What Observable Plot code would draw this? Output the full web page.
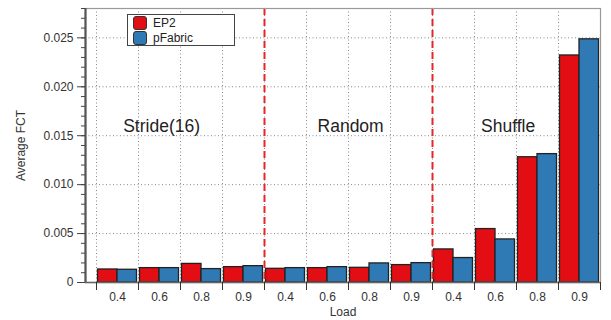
<!DOCTYPE html>
<html><head><meta charset="utf-8">
<script src="https://cdn.jsdelivr.net/npm/d3@7"></script>
<script src="https://cdn.jsdelivr.net/npm/@observablehq/plot@0.6"></script>
<style>
body{margin:0;background:#fff;font-family:"Liberation Sans",Arial,sans-serif;}
#wrap{position:relative;width:611px;height:320px;}
.legend{position:absolute;left:127px;top:14px;width:106px;height:30px;border:1.5px solid #444;background:#fff;font-size:12px;color:#222;padding:0;}
.legend .row{position:absolute;left:5px;height:14px;display:flex;align-items:center;}
.legend .sw{width:12px;height:12px;border:1.2px solid #333;border-radius:3px;margin-right:6px;}
</style></head><body><div id="wrap"></div>
<script>
const categories = ["Stride(16)", "Random", "Shuffle"];
const loads = ["0.4", "0.6", "0.8", "0.9"];
const seriesNames = ["EP2", "pFabric"];
const colors = ["#e30d14", "#2f79b5"];
const ep2 =     [0.00133, 0.00147, 0.00190, 0.00157, 0.00140, 0.00147, 0.00150, 0.00178, 0.00338, 0.00546, 0.01280, 0.02320];
const pfabric = [0.00130, 0.00147, 0.00137, 0.00167, 0.00147, 0.00157, 0.00195, 0.00198, 0.00250, 0.00440, 0.01312, 0.02485];
const yMajor = [0, 0.005, 0.010, 0.015, 0.020, 0.025];
const yMinor = d3.range(0, 0.0285, 0.001);
const annotationX = [1.55, 6.05, 9.8];
const annotationY = 0.016;

const groups = [];
categories.forEach((c, ci) => loads.forEach((l, li) => groups.push({i: ci * loads.length + li, cat: c, load: l})));
const rows = [];
groups.forEach((g, k) => {
  rows.push({...g, series: "EP2", value: ep2[k]});
  rows.push({...g, series: "pFabric", value: pfabric[k]});
});
const nGroups = groups.length;
const boundaries = d3.range(0, nGroups + 1);
const centers = groups.map(g => g.i + 0.5);
const separators = categories.slice(1).map((c, k) => (k + 1) * loads.length);
const xDomain = [-0.262, nGroups];

const chart = Plot.plot({
  width: 611, height: 320,
  marginLeft: 85, marginRight: 11, marginTop: 8, marginBottom: 38,
  style: {fontFamily: "'Liberation Sans', Arial, sans-serif", fontSize: "12px", color: "#333", background: "#fff"},
  x: {type: "linear", domain: xDomain, axis: null},
  y: {domain: [0, 0.028], axis: null},
  color: {domain: seriesNames, range: colors},
  marks: [
    Plot.ruleY(yMajor.slice(1), {stroke: "#888", strokeDasharray: "1,2.5", strokeWidth: 1}),
    Plot.ruleX(boundaries, {stroke: "#888", strokeDasharray: "1,2.5", strokeWidth: 1}),
    Plot.rectY(rows.filter(d => d.series === "EP2"), {x1: d => d.i, x2: d => d.i + 0.5, y: "value", fill: "series", stroke: "#222", strokeWidth: 1.3, insetLeft: 1.5}),
    Plot.rectY(rows.filter(d => d.series === "pFabric"), {x1: d => d.i + 0.5, x2: d => d.i + 1, y: "value", fill: "series", stroke: "#222", strokeWidth: 1.3, insetRight: 1.5}),
    Plot.ruleX(separators, {stroke: "#e8262a", strokeWidth: 2, strokeDasharray: "7,4"}),
    Plot.text(categories, {x: (d, k) => annotationX[k], y: () => annotationY, text: d => d, fontSize: 17.5, fill: "#222"}),
    Plot.frame({stroke: "#999", strokeWidth: 1.2}),
    Plot.ruleY([0], {stroke: "#666", strokeWidth: 1.5}),
    Plot.ruleX([xDomain[0]], {stroke: "#555", strokeWidth: 2.2}),
    Plot.axisY(yMinor, {tickSize: 4, tickFormat: () => "", stroke: "#444", label: null}),
    Plot.axisY(yMajor, {tickSize: 8, tickPadding: 4, stroke: "#444", tickFormat: d => d === 0 ? "0" : d.toFixed(3), label: "Average FCT", labelArrow: "none", labelAnchor: "center", labelOffset: 69}),
    Plot.axisX(boundaries, {tickSize: 8, tickFormat: () => "", stroke: "#333", label: null}),
    Plot.axisX(centers, {tickSize: 0, tickPadding: 10, tickFormat: (d, k) => loads[Math.floor(d) % loads.length], label: "Load", labelArrow: "none", labelAnchor: "center", labelOffset: 33})
  ]
});
const wrap = document.getElementById("wrap");
wrap.appendChild(chart);
// strip any auto arrow left in axis labels
chart.querySelectorAll("text").forEach(t => {
  if (/[→↑]/.test(t.textContent)) t.textContent = t.textContent.replace(/\s*[→↑]\s*/g, "").replace(/^\s+|\s+$/g, "");
});
const legend = document.createElement("div");
legend.className = "legend";
seriesNames.forEach((s, k) => {
  const row = document.createElement("div");
  row.className = "row";
  row.style.top = (1 + k * 15) + "px";
  const sw = document.createElement("div");
  sw.className = "sw";
  sw.style.background = colors[k];
  const t = document.createElement("span");
  t.textContent = s;
  row.appendChild(sw); row.appendChild(t);
  legend.appendChild(row);
});
wrap.appendChild(legend);
</script></body></html>
